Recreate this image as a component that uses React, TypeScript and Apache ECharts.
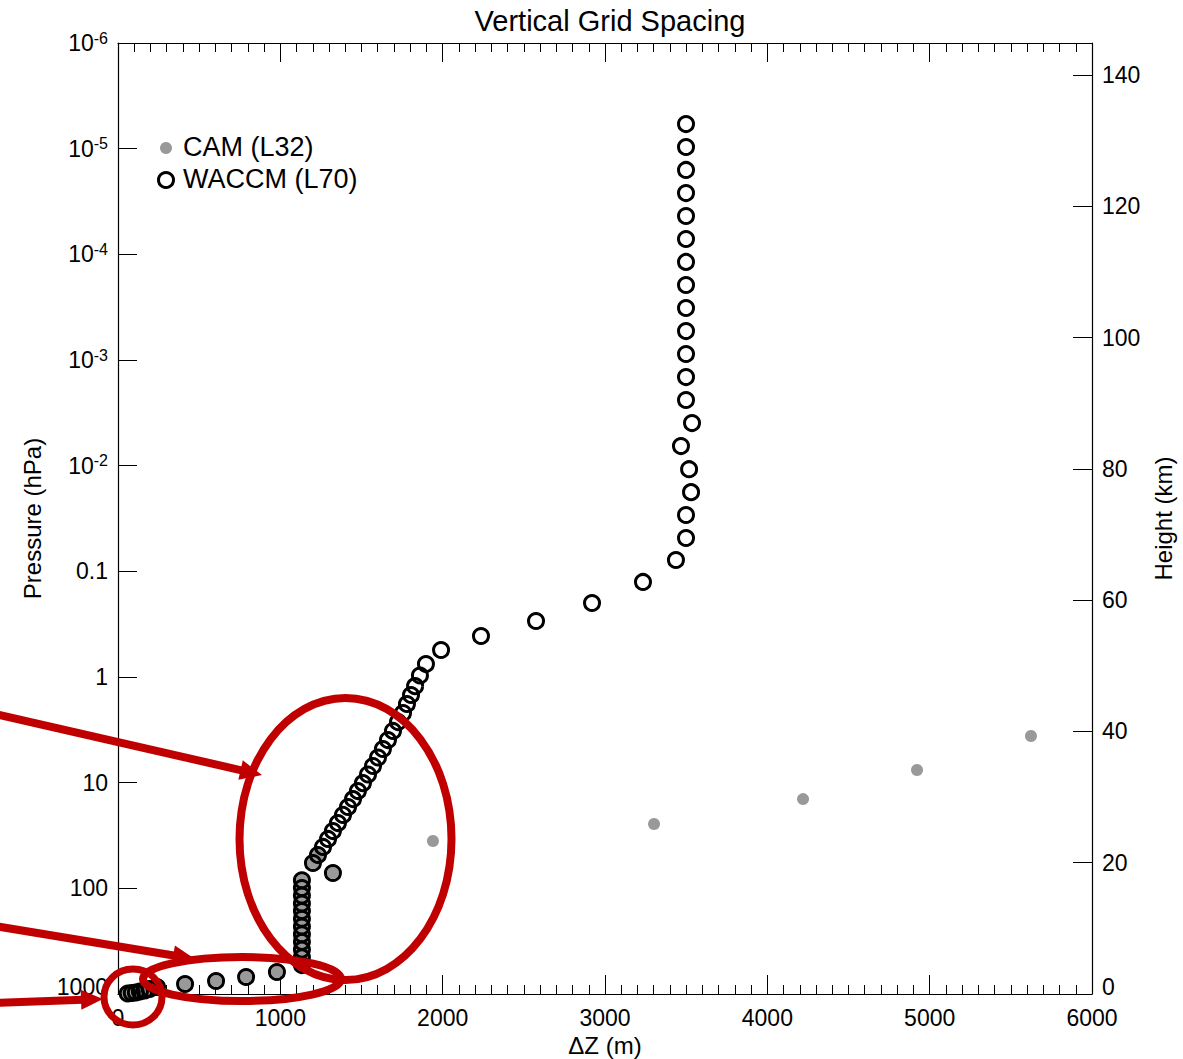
import React, { useEffect, useRef } from "react";
import * as echarts from "echarts";

// ---- data (ΔZ in metres, pressure in hPa) ----
const waccmDz = [
  60, 85, 110, 135, 165, 195,
  240, 413, 604, 789, 979,
  1133, 1133, 1133, 1133, 1133, 1133, 1133, 1133, 1133, 1133, 1133, 1133,
  1324,
  1201, 1232, 1263, 1294, 1324, 1355, 1386, 1417, 1448, 1478, 1509, 1540, 1571, 1602, 1632,
  1663, 1694, 1725, 1756, 1780, 1805, 1830, 1860, 1897, 1990, 2236, 2575, 2920, 3234, 3437,
  3499, 3499, 3530, 3518, 3468, 3536,
  3499, 3499, 3499, 3499, 3499, 3499, 3499, 3499, 3499, 3499, 3499, 3499, 3499,
];
const waccmP = [
  989, 978, 968, 947, 927, 897,
  858, 804, 753, 690, 619,
  532, 450, 380, 321, 272, 230, 194, 164, 139, 117, 99.3, 83.9,
  71.6,
  57.6, 48.4, 40.6, 34.1, 28.7, 24.1, 20.2, 17.0, 14.3, 12.0, 10.1, 8.37, 6.95, 5.78, 4.8,
  3.95, 3.24, 2.67, 2.19, 1.8, 1.48, 1.22, 0.968, 0.754, 0.555, 0.409, 0.295, 0.1995, 0.126, 0.0781,
  0.0484, 0.0293, 0.0178, 0.0108, 0.00652, 0.00395,
  0.00239, 0.00145, 8.77e-4, 5.32e-4, 3.22e-4, 1.95e-4, 1.18e-4, 7.16e-5, 4.34e-5, 2.63e-5,
  1.59e-5, 9.64e-6, 5.85e-6,
];
const camDz = [
  60, 85, 110, 135, 165, 195,
  240, 413, 604, 789, 979,
  1133, 1133, 1133, 1133, 1133, 1133, 1133, 1133, 1133, 1133, 1133, 1133,
  1324, 1201, 1232,
  1940, 3302, 4220, 4922, 5624,
];
const camP = [
  989, 978, 968, 947, 927, 897,
  858, 804, 753, 690, 619,
  532, 450, 380, 321, 272, 230, 194, 164, 139, 117, 99.3, 83.9,
  71.6, 57.6, 48.4,
  35.6, 24.6, 14.3, 7.59, 3.62,
];

const seriesNames = ["CAM (L32)", "WACCM (L70)"];
const titleText = "Vertical Grid Spacing";
const xName = "ΔZ (m)";
const yLeftName = "Pressure (hPa)";
const yRightName = "Height (km)";

const FONT = "'Liberation Sans', Arial, Helvetica, sans-serif";
const RED = "#C00000";
const TICK_FS = 23;
const NAME_FS = 24;

function arrow(x0: number, y0: number, tx: number, ty: number, len = 22, hw = 10) {
  const dx = tx - x0;
  const dy = ty - y0;
  const L = Math.sqrt(dx * dx + dy * dy);
  const ux = dx / L;
  const uy = dy / L;
  const bx = tx - len * ux;
  const by = ty - len * uy;
  const nx = -uy;
  const ny = ux;
  return [
    {
      type: "line",
      z: 100,
      shape: { x1: x0, y1: y0, x2: bx + ux * 2, y2: by + uy * 2 },
      style: { stroke: RED, lineWidth: 8 },
    },
    {
      type: "polygon",
      z: 100,
      shape: {
        points: [
          [tx, ty],
          [bx + hw * nx, by + hw * ny],
          [bx - hw * nx, by - hw * ny],
        ],
      },
      style: { fill: RED },
    },
  ];
}

export default function App() {
  const ref = useRef<HTMLDivElement>(null);
  useEffect(() => {
    document.body.style.margin = "0";
    const chart = echarts.init(ref.current!, undefined, { renderer: "svg" });
    const camData = camDz.map((d, i) => [d, camP[i]]);
    const waccmData = waccmDz.map((d, i) => [d, waccmP[i]]);

    const tickCommon = {
      axisLine: { show: true, onZero: false, lineStyle: { color: "#000", width: 1.2 } },
      axisTick: { show: true, inside: true, length: 19, lineStyle: { color: "#000", width: 1 } },
      splitLine: { show: false },
    };

    chart.setOption({
      animation: false,
      backgroundColor: "#fff",
      textStyle: { fontFamily: FONT },
      title: {
        text: titleText,
        left: 605,
        top: 1,
        textAlign: "center",
        textStyle: { fontFamily: FONT, fontSize: 29, fontWeight: "normal", color: "#000" },
      },
      grid: { left: 118, top: 43, right: 91, bottom: 65, containLabel: false, outerBoundsMode: "none" },
      xAxis: [
        {
          type: "value",
          position: "bottom",
          min: 0,
          max: 6000,
          interval: 1000,
          name: xName,
          nameLocation: "middle",
          nameGap: 33,
          nameTextStyle: { fontFamily: FONT, fontSize: NAME_FS, color: "#000" },
          ...tickCommon,
          minorTick: { show: true, splitNumber: 10, length: 9, lineStyle: { color: "#000", width: 1 } },
          axisLabel: {
            margin: 12,
            fontFamily: FONT,
            fontSize: TICK_FS,
            color: "#000",
            formatter: (v: number) => String(v),
          },
        },
        {
          type: "value",
          position: "top",
          min: 0,
          max: 6000,
          interval: 1000,
          ...tickCommon,
          minorTick: { show: true, splitNumber: 10, length: 9, lineStyle: { color: "#000", width: 1 } },
          axisLabel: { show: false },
        },
      ],
      yAxis: [
        {
          type: "log",
          logBase: 10,
          min: 1e-6,
          max: 1000,
          inverse: true,
          position: "left",
          name: yLeftName,
          nameLocation: "middle",
          nameRotate: 90,
          nameGap: 74,
          nameTextStyle: { fontFamily: FONT, fontSize: NAME_FS, color: "#000" },
          ...tickCommon,
          axisLabel: {
            margin: 10,
            color: "#000",
            fontFamily: FONT,
            fontSize: TICK_FS,
            formatter: (v: number) => {
              const e = Math.round(Math.log10(v));
              if (e <= -2) return "{a|10}{s|" + e + "}";
              if (e === -1) return "{a|0.1}";
              if (e === 3) return "{low|1000}";
              return "{a|" + Math.pow(10, e) + "}";
            },
            rich: {
              a: { fontFamily: FONT, fontSize: TICK_FS, color: "#000", lineHeight: 26 },
              low: { fontFamily: FONT, fontSize: TICK_FS, color: "#000", lineHeight: 26, padding: [0, 0, 14, 0] },
              s: { fontFamily: FONT, fontSize: 16, color: "#000", verticalAlign: "top", lineHeight: 26 },
            },
          },
        },
        {
          type: "value",
          min: 0,
          max: 144.9,
          interval: 20,
          position: "right",
          name: yRightName,
          nameLocation: "middle",
          nameRotate: 90,
          nameGap: 50,
          nameTextStyle: { fontFamily: FONT, fontSize: NAME_FS, color: "#000" },
          ...tickCommon,
          axisLabel: {
            margin: 10,
            fontFamily: FONT,
            fontSize: TICK_FS,
            color: "#000",
            showMaxLabel: false,
            formatter: (v: number) => (v === 0 ? "{low|0}" : "{a|" + v + "}"),
            rich: {
              a: { fontFamily: FONT, fontSize: TICK_FS, color: "#000", lineHeight: 26 },
              low: { fontFamily: FONT, fontSize: TICK_FS, color: "#000", lineHeight: 26, padding: [0, 0, 14, 0] },
            },
          },
        },
      ],
      series: [
        {
          name: seriesNames[0],
          type: "scatter",
          xAxisIndex: 0,
          yAxisIndex: 0,
          z: 2,
          symbol: "circle",
          symbolSize: 12,
          itemStyle: { color: "#999999", borderWidth: 0, opacity: 1 },
          data: camData,
        },
        {
          name: seriesNames[1],
          type: "scatter",
          xAxisIndex: 0,
          yAxisIndex: 0,
          z: 3,
          symbol: "circle",
          symbolSize: 15,
          itemStyle: { color: "rgba(0,0,0,0)", borderColor: "#000", borderWidth: 3, opacity: 1 },
          data: waccmData,
        },
      ],
      graphic: [
        // legend
        { type: "circle", z: 50, shape: { cx: 166, cy: 148, r: 6 }, style: { fill: "#999999" } },
        { type: "circle", z: 50, shape: { cx: 166, cy: 180, r: 7.5 }, style: { fill: "none", stroke: "#000", lineWidth: 3 } },
        {
          type: "text",
          z: 50,
          x: 183,
          y: 147,
          style: { text: seriesNames[0], fontFamily: FONT, fontSize: 27, fill: "#000", verticalAlign: "middle", align: "left" },
        },
        {
          type: "text",
          z: 50,
          x: 183,
          y: 179,
          style: { text: seriesNames[1], fontFamily: FONT, fontSize: 27, fill: "#000", verticalAlign: "middle", align: "left" },
        },
        // red annotations
        { type: "ellipse", z: 100, shape: { cx: 345.5, cy: 839, rx: 106, ry: 141 }, style: { fill: "none", stroke: RED, lineWidth: 8 } },
        { type: "ellipse", z: 100, shape: { cx: 242, cy: 979, rx: 99, ry: 22 }, style: { fill: "none", stroke: RED, lineWidth: 8 } },
        { type: "ellipse", z: 100, shape: { cx: 133, cy: 997, rx: 29, ry: 28 }, style: { fill: "none", stroke: RED, lineWidth: 7 } },
        ...arrow(-5, 714, 262, 775),
        ...arrow(-5, 926, 195, 959),
        ...arrow(-5, 1003, 103, 999),
      ],
    });
    return () => chart.dispose();
  }, []);
  return <div ref={ref} style={{ width: 1183, height: 1059 }} />;
}
